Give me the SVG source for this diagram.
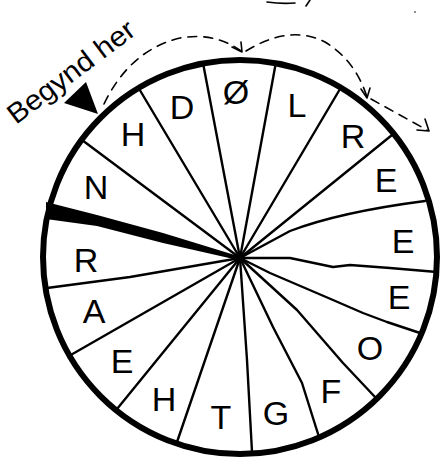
<svg xmlns="http://www.w3.org/2000/svg" width="445" height="459" viewBox="0 0 445 459">
<style>
.rim{fill:none;stroke:#000;stroke-width:6}
.sp{fill:none;stroke:#000;stroke-width:2.4;stroke-linecap:round;stroke-linejoin:round}
.ds{fill:none;stroke:#000;stroke-width:1.6;stroke-dasharray:9 7;stroke-linecap:round}
.ah{fill:none;stroke:#000;stroke-width:1.6;stroke-linecap:round;stroke-linejoin:round}
.lt{font-family:"Liberation Sans","DejaVu Sans",sans-serif;font-size:34px;fill:#000;text-anchor:middle}
.bh{font-family:"Liberation Sans","DejaVu Sans",sans-serif;font-size:28px;fill:#000}
</style>
<rect width="445" height="459" fill="#fff"/>
<path d="M267,2 Q281,4 295,3" class="ah"/>
<path d="M310,0 L306,6" class="ah"/>
<circle cx="415" cy="12" r="0.8" fill="#000"/>

<g id="wheel">
<circle cx="240" cy="257" r="197" class="rim"/>
</g>

<g id="spokes">
<path class="sp" d="M240,258 L82,140"/>
<path class="sp" d="M240,258 L138,87"/>
<path class="sp" d="M240,258 L203,63"/>
<path class="sp" d="M240,258 L276,62"/>
<path class="sp" d="M240,258 L340,89"/>
<path class="sp" d="M240,258 L392,135"/>
<path class="sp" d="M240,258 L290,231 Q340,212 425,201"/>
<path class="sp" d="M240,258 L290,258 L333,267 L350,265 L390,268 L437,272"/>
<path class="sp" d="M240,258 L270,273 L333,300 L363,313 L387,322 L420,333"/>
<path class="sp" d="M240,258 L297,310 L343,363 L375,397"/>
<path class="sp" d="M240,258 L273,327 L302,383 L319,437"/>
<path class="sp" d="M240,258 L247,360 L252,452"/>
<path class="sp" d="M240,258 L177,442"/>
<path class="sp" d="M240,258 L117,409"/>
<path class="sp" d="M240,258 L69,356"/>
<path class="sp" d="M240,258 L130,277 L47,288"/>
<path d="M46,202 L97,215 L163,233 L238,256 L238,260 L163,243 L97,226 L46,219 Z" fill="#000"/>
<circle cx="240" cy="258" r="5" fill="#000"/>
</g>

<g id="letters">
<g id="l-N"><text class="lt" x="96" y="199">N</text></g>
<g id="l-H1"><text class="lt" x="133" y="146">H</text></g>
<g id="l-D"><text class="lt" x="182" y="119">D</text></g>
<g id="l-OE"><text class="lt" x="236" y="104">Ø</text></g>
<g id="l-L"><text class="lt" x="297" y="117">L</text></g>
<g id="l-R1"><text class="lt" x="353" y="148">R</text></g>
<g id="l-E1"><text class="lt" x="386" y="192">E</text></g>
<g id="l-E2"><text class="lt" x="403" y="253">E</text></g>
<g id="l-E3"><text class="lt" x="399" y="309">E</text></g>
<g id="l-O"><text class="lt" x="370" y="360">O</text></g>
<g id="l-F"><text class="lt" x="331" y="403">F</text></g>
<g id="l-G"><text class="lt" x="276" y="425">G</text></g>
<g id="l-T"><text class="lt" x="221" y="429">T</text></g>
<g id="l-H2"><text class="lt" x="164" y="411">H</text></g>
<g id="l-E4"><text class="lt" x="122" y="373">E</text></g>
<g id="l-A"><text class="lt" x="94" y="323">A</text></g>
<g id="l-R2"><text class="lt" x="86" y="272">R</text></g>
</g>

<g id="start">
<text class="bh" transform="translate(16,125) rotate(-37)" textLength="152" lengthAdjust="spacingAndGlyphs">Begynd her</text>
<path d="M64,103 L86,82 L98,114 Z" fill="#000"/>
</g>

<g id="arrows">
<path class="ds" d="M104,104 Q130,50 180,38 Q215,32 241,51"/>
<path class="ah" d="M232,47 L242,52 L241,42"/>
<path class="ds" d="M246,51 Q290,24 325,42 Q355,60 367,97"/>
<path class="ah" d="M361,89 L367,98 L370,88"/>
<path class="ds" d="M371,99 L427,130"/>
<path class="ah" d="M425,119 L429,131 L417,130"/>
</g>
</svg>
